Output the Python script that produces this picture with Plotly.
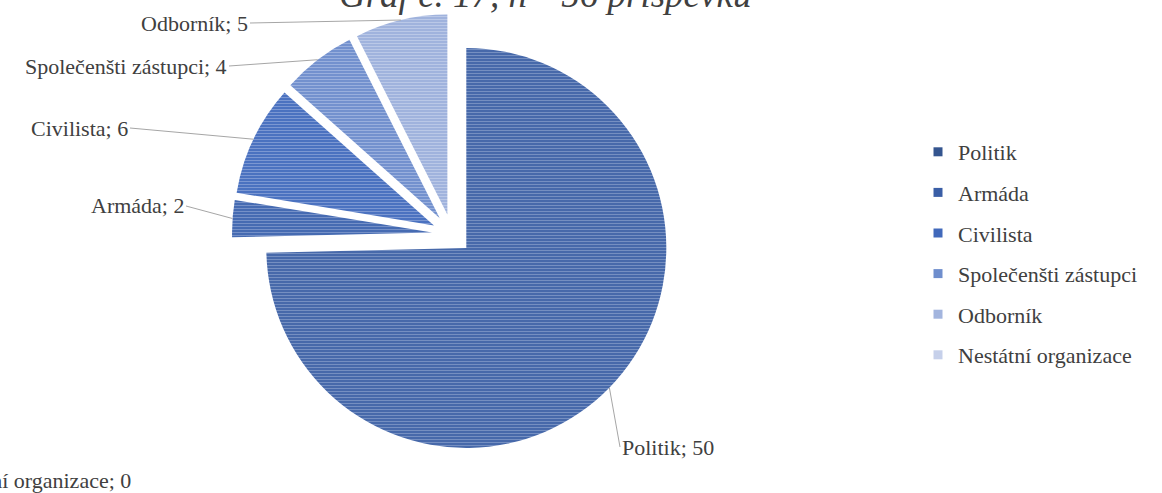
import numpy as np
import plotly.graph_objects as go

# ---- data ----
labels = ["Politik", "Armáda", "Civilista", "Společenšti zástupci", "Odborník", "Nestátní organizace"]
values = [50, 2, 6, 4, 5, 0]
title_text = "Graf č. 17, n= 56 příspěvků"

# ---- styling ----
base_colors = ["#3d60a4", "#3c62ad", "#4169bb", "#6a8acb", "#9aaedb", "#c2cce9"]
stripe_colors = ["#aebdde", "#adbee2", "#b5c6ea", "#c8d4ef", "#dae2f4", "#e6ebf7"]
legend_colors = ["#34558f", "#3a5ea6", "#4169bb", "#6f8ecd", "#a3b5de", "#c6d0ea"]
FONT = "Liberation Serif"
FS = 22
W, H = 1162, 493
CX, CY = 452, 234          # pie centre, px from top-left
R = 200                    # pie radius, px
PULL = 0.1

# label text anchor positions (px) and anchors
label_pos = {
    "Politik": (620, 447, "left"),
    "Armáda": (186, 206, "right"),
    "Civilista": (130, 128, "right"),
    "Společenšti zástupci": (229, 66, "right"),
    "Odborník": (250, 23, "right"),
}
zero_label_pos = (133, 480)

fig = go.Figure()

rdom = R * (1 + PULL)
fig.add_trace(go.Pie(
    labels=labels, values=values, sort=False, direction="clockwise", rotation=0,
    pull=[PULL] * len(values), textinfo="none", hoverinfo="label+value",
    showlegend=False,
    domain=dict(x=[(CX - rdom) / W, (CX + rdom) / W], y=[1 - (CY + rdom) / H, 1 - (CY - rdom) / H]),
    marker=dict(colors=base_colors, line=dict(width=0),
                pattern=dict(shape="-", fgcolor=stripe_colors, bgcolor=base_colors,
                             size=3, solidity=0.45, fillmode="overlay")),
))

# legend entries (one group each so the spacing can match)
for lab, col in zip(labels, legend_colors):
    fig.add_trace(go.Scatter(x=[None], y=[None], mode="markers", name=lab,
                             legendgroup=lab,
                             marker=dict(symbol="square", size=9, color=col)))

# data labels with leader lines computed from the values
tot = float(np.sum(values))
ends = np.cumsum(values) / tot * 360.0
starts = ends - np.array(values) / tot * 360.0
mids = (starts + ends) / 2.0
annotations = []
for lab, v, m in zip(labels, values, mids):
    txt = f"{lab}; {v}"
    if v == 0:
        annotations.append(dict(x=zero_label_pos[0] / W, y=1 - zero_label_pos[1] / H,
                                 xref="paper", yref="paper", text=txt, showarrow=False,
                                 xanchor="right", yanchor="middle",
                                 font=dict(family=FONT, size=FS, color="#404040")))
        continue
    th = np.deg2rad(m)
    hx = CX + R * (1 + PULL) * np.sin(th)
    hy = CY - R * (1 + PULL) * np.cos(th)
    tx, ty, anc = label_pos[lab]
    annotations.append(dict(x=hx / W, y=1 - hy / H, xref="paper", yref="paper",
                            text=txt, showarrow=True, arrowhead=0, arrowwidth=1,
                            arrowcolor="#a6a6a6", ax=tx - hx, ay=ty - hy,
                            axref="pixel", ayref="pixel", xanchor=anc, yanchor="middle",
                            standoff=0, startstandoff=0,
                            font=dict(family=FONT, size=FS, color="#404040")))

annotations.append(dict(x=545 / W, y=1 - 17 / H, xref="paper", yref="paper",
                        text=title_text, showarrow=False, xanchor="center", yanchor="bottom",
                        font=dict(family=FONT, size=37, color="#404040", style="italic")))

fig.update_layout(
    width=W, height=H, margin=dict(l=0, r=0, t=0, b=0),
    paper_bgcolor="white", plot_bgcolor="white",
    xaxis=dict(visible=False), yaxis=dict(visible=False),
    annotations=annotations,
    legend=dict(x=918 / W, y=1 - 131 / H, xanchor="left", yanchor="top",
                font=dict(family=FONT, size=FS, color="#404040"),
                tracegroupgap=9, itemwidth=30, bgcolor="rgba(0,0,0,0)"),
)

fig.write_html("out.html", config={"displayModeBar": False},
               post_script="document.body.style.margin='0';")
